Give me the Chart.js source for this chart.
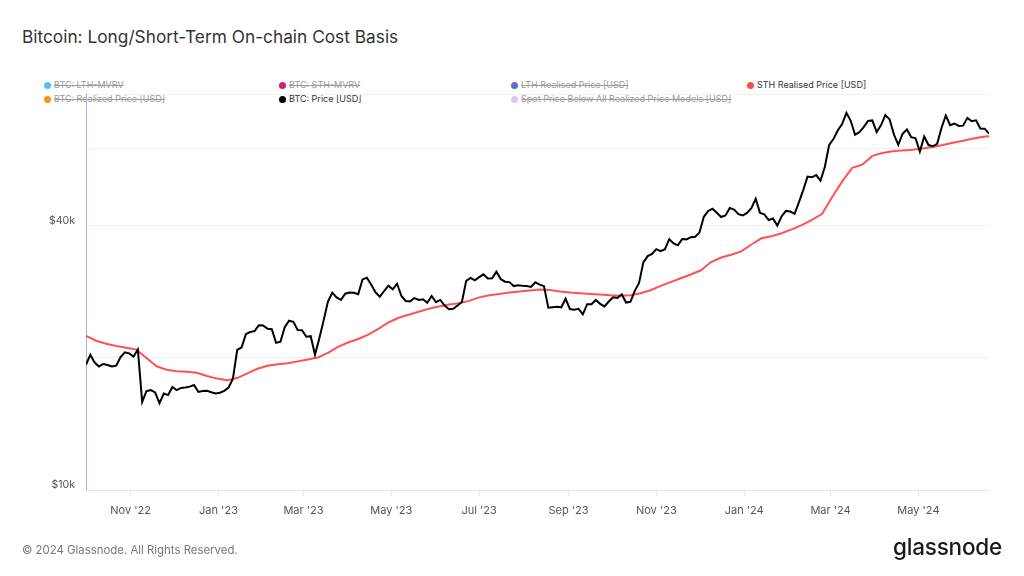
<!DOCTYPE html>
<html>
<head>
<meta charset="utf-8">
<script src="https://cdn.jsdelivr.net/npm/chart.js@4.4.1/dist/chart.umd.min.js"></script>
<style>
  body { margin: 0; background: #fff; font-family: Inter, 'Noto Sans', sans-serif; }
  #wrap { position: relative; width: 1024px; height: 576px; overflow: hidden; }
  #chart-box { position: absolute; left: 0; top: 0; width: 1024px; height: 576px; }
  .title { position: absolute; left: 22px; top: 26px; font-size: 17.3px; color: #333; }
  .legend-item { position: absolute; font-size: 9px; line-height: 12px; color: #333; white-space: nowrap; }
  .legend-item .dot { display: inline-block; width: 7px; height: 7px; border-radius: 50%; margin-right: 3px; vertical-align: -0.5px; }
  .legend-item.off { color: #9a9a9a; text-decoration: line-through; }
  .footer { position: absolute; left: 22px; top: 543px; font-size: 11.4px; color: #777; }
  .logo { position: absolute; left: 893px; top: 533px; font-size: 22.5px; font-weight: 500; color: #1a1a1a; letter-spacing: -0.2px; }
</style>
</head>
<body>
<div id="wrap">
  <div class="title">Bitcoin: Long/Short-Term On-chain Cost Basis</div>

  <div class="legend-item off" style="left:44px; top:79px"><span class="dot" style="background:#4fc3f7"></span>BTC: LTH-MVRV</div>
  <div class="legend-item off" style="left:279px; top:79px"><span class="dot" style="background:#d81b7a"></span>BTC: STH-MVRV</div>
  <div class="legend-item off" style="left:511px; top:79px"><span class="dot" style="background:#5b6fd6"></span>LTH Realised Price [USD]</div>
  <div class="legend-item" style="left:747px; top:79px"><span class="dot" style="background:#ff4d4d"></span>STH Realised Price [USD]</div>
  <div class="legend-item off" style="left:44px; top:93px"><span class="dot" style="background:#f7931a"></span>BTC: Realized Price [USD]</div>
  <div class="legend-item" style="left:279px; top:93px"><span class="dot" style="background:#000"></span>BTC: Price [USD]</div>
  <div class="legend-item off" style="left:511px; top:93px"><span class="dot" style="background:#d9c9f2"></span>Spot Price Below All Realized Price Models [USD]</div>

  <div id="chart-box"><canvas id="chart"></canvas></div>

  <div class="footer">© 2024 Glassnode. All Rights Reserved.</div>
  <div class="logo">glassnode</div>
</div>

<script>
// day 0 = 1 Oct 2022, values in thousands of USD
const PRICE_STEP = 3
const btcPrice = [
    19.31, 20.34, 19.53, 19.13, 19.38, 19.27, 19.12, 19.21, 20.09, 20.60,
    20.49, 20.15, 20.91, 15.88, 16.80, 16.90, 16.69, 15.78, 16.60, 16.46,
    17.17, 16.89, 17.09, 17.13, 17.21, 17.36, 16.74, 16.82, 16.84, 16.71,
    16.60, 16.67, 16.83, 17.12, 17.94, 20.88, 21.14, 22.67, 22.92, 23.03,
    23.74, 23.73, 23.33, 23.26, 21.65, 21.78, 23.52, 24.33, 24.19, 23.17,
    23.15, 22.36, 22.43, 20.36, 22.16, 24.37, 26.90, 28.18, 27.48, 27.14,
    28.03, 28.20, 28.17, 27.95, 30.22, 30.48, 29.43, 28.24, 27.59, 28.43,
    29.23, 28.68, 29.54, 27.70, 26.99, 26.93, 27.40, 27.12, 27.23, 26.72,
    27.70, 26.82, 27.13, 26.34, 25.84, 25.90, 26.34, 26.84, 29.99, 30.47,
    30.08, 30.59, 31.03, 30.35, 30.41, 31.47, 30.25, 29.86, 29.79, 29.18,
    29.31, 29.23, 29.18, 29.04, 29.77, 29.41, 29.17, 26.05, 26.12, 26.17,
    26.10, 27.30, 25.87, 25.78, 25.90, 25.16, 26.53, 26.53, 27.13, 26.58,
    26.22, 26.91, 27.50, 27.41, 27.94, 26.76, 26.86, 28.42, 29.67, 33.05,
    34.15, 34.53, 35.42, 35.05, 35.42, 37.32, 36.49, 36.14, 37.36, 37.29,
    37.72, 37.82, 38.69, 41.98, 43.29, 43.78, 42.87, 41.93, 42.26, 43.98,
    43.61, 42.58, 42.27, 42.84, 43.93, 46.12, 42.85, 42.51, 41.28, 41.62,
    40.08, 42.10, 43.30, 43.19, 42.65, 45.30, 48.30, 51.84, 51.66, 52.27,
    50.75, 54.52, 61.20, 63.14, 66.11, 68.31, 72.48, 69.50, 64.60, 65.49,
    67.21, 69.46, 69.64, 65.50, 67.84, 71.63, 70.01, 64.66, 61.28, 64.94,
    66.41, 63.76, 63.42, 59.12, 64.03, 61.19, 60.79, 61.58, 66.94, 71.45,
    67.93, 68.52, 67.66, 67.75, 70.57, 69.36, 69.65, 66.75, 66.68, 64.96
]

const STH_STEP = 7
const sthRealisedPrice = [
    22.45, 21.90, 21.55, 21.30, 21.10, 20.90, 20.00, 19.15, 18.80, 18.65,
    18.60, 18.50, 18.20, 17.95, 17.80, 18.00, 18.45, 18.90, 19.20, 19.35,
    19.45, 19.65, 19.85, 20.05, 20.55, 21.20, 21.70, 22.10, 22.60, 23.30,
    24.10, 24.70, 25.10, 25.50, 25.90, 26.20, 26.50, 26.65, 27.00, 27.50,
    27.80, 28.00, 28.20, 28.35, 28.50, 28.65, 28.60, 28.35, 28.20, 28.10,
    28.00, 27.90, 27.80, 27.75, 27.80, 28.10, 28.55, 29.20, 29.80, 30.40,
    31.00, 31.70, 33.10, 33.90, 34.40, 35.00, 36.30, 37.50, 37.90, 38.50,
    39.30, 40.20, 41.30, 42.60, 46.50, 50.50, 54.30, 55.20, 57.80, 58.70,
    59.20, 59.50, 59.70, 60.10, 60.60, 61.20, 61.90, 62.60, 63.30, 63.90,
    64.20
]

const xTickDays = [31, 92, 151, 212, 273, 335, 396, 457, 517, 578]
const xTickLabels = ["Nov '22", "Jan '23", "Mar '23", "May '23", "Jul '23", "Sep '23", "Nov '23", "Jan '24", "Mar '24", "May '24"]
const yTickValues = [10, 20, 40, 60, 80]
const yTickLabels = ['$10k', '', '$40k', '', '']

const lastDay = (btcPrice.length - 1) * PRICE_STEP

new Chart(document.getElementById('chart'), {
    type: 'line',
    data: {
        datasets: [{
            label: 'BTC: Price [USD]',
            data: btcPrice.map((v, i) => ({ x: i * PRICE_STEP, y: v })),
            borderColor: '#000000',
            borderWidth: 2
        }, {
            label: 'STH Realised Price [USD]',
            data: sthRealisedPrice.map((v, i) => ({ x: i * STH_STEP, y: v })),
            borderColor: '#ff5252',
            borderWidth: 2
        }]
    },
    options: {
        responsive: true,
        maintainAspectRatio: false,
        devicePixelRatio: 1,
        animation: false,
        layout: { padding: { left: 0, right: 35, top: 94, bottom: 0 } },
        elements: { point: { radius: 0 }, line: { tension: 0 } },
        plugins: { legend: { display: false }, tooltip: { enabled: false } },
        scales: {
            x: {
                type: 'linear',
                min: 0,
                max: lastDay,
                afterBuildTicks: scale => { scale.ticks = xTickDays.map(v => ({ value: v })) },
                afterFit: scale => { scale.height = 86 },
                grid: { drawOnChartArea: false, color: '#e6e6e6', tickLength: 6 },
                border: { color: '#e6e6e6' },
                ticks: {
                    padding: 8,
                    maxRotation: 0,
                    color: '#555',
                    font: { family: 'Inter', size: 11 },
                    callback: value => xTickLabels[xTickDays.indexOf(value)]
                }
            },
            y: {
                type: 'logarithmic',
                min: 10,
                max: 80,
                afterBuildTicks: scale => { scale.ticks = yTickValues.map(v => ({ value: v })) },
                afterFit: scale => { scale.width = 86 },
                grid: { color: '#f0f0f0', drawTicks: false },
                border: { color: '#9fb2f2' },
                ticks: {
                    padding: 11,
                    labelOffset: -5,
                    color: '#555',
                    font: { family: 'Inter', size: 10.5 },
                    callback: value => yTickLabels[yTickValues.indexOf(value)]
                }
            }
        }
    }
})
</script>
</body>
</html>
